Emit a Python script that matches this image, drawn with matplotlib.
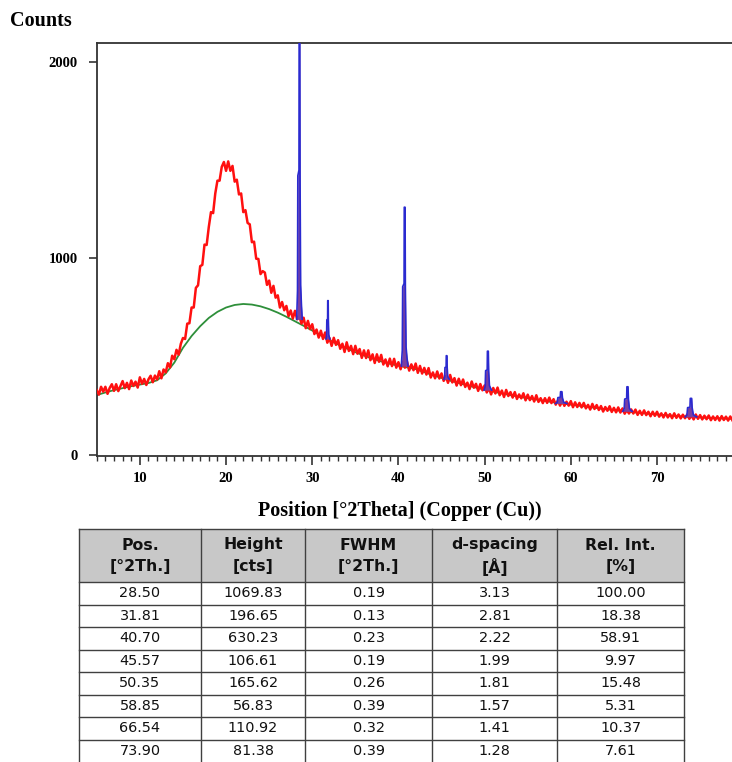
import numpy as np
import matplotlib
matplotlib.use("Agg")
import matplotlib.pyplot as plt
from matplotlib.ticker import MultipleLocator
from matplotlib.patches import Rectangle

# step scan, 0.25 deg from 5.00 to 78.75 deg 2theta
scan_start = 5.0
scan_step = 0.25
counts = [
    330, 307, 347, 322, 347, 311, 341, 360,
    326, 360, 325, 350, 376, 340, 367, 335,
    379, 351, 373, 343, 395, 362, 387, 356,
    385, 403, 370, 404, 384, 426, 390, 435,
    420, 467, 445, 505, 487, 535, 510, 565,
    595, 590, 668, 670, 750, 750, 850, 863,
    960, 967, 1070, 1068, 1160, 1235, 1230, 1330,
    1395, 1395, 1465, 1490, 1445, 1493, 1445, 1470,
    1390, 1400, 1325, 1330, 1235, 1245, 1180, 1173,
    1082, 1085, 998, 997, 920, 935, 928, 865,
    887, 825, 860, 800, 812, 750, 778, 736,
    758, 706, 735, 694, 733, 690, 707, 668,
    698, 645, 682, 640, 665, 615, 638, 597,
    632, 590, 623, 571, 595, 555, 596, 560,
    584, 540, 566, 524, 573, 529, 555, 513,
    555, 515, 539, 494, 532, 493, 532, 482,
    512, 468, 512, 474, 509, 460, 486, 451,
    490, 452, 489, 444, 472, 436, 474, 444,
    474, 429, 461, 431, 465, 418, 453, 414,
    443, 409, 442, 394, 420, 390, 425, 389,
    415, 377, 401, 367, 407, 369, 391, 353,
    388, 355, 384, 346, 368, 335, 374, 342,
    362, 326, 361, 329, 354, 318, 342, 308,
    341, 313, 343, 304, 328, 295, 331, 300,
    320, 292, 320, 285, 308, 288, 314, 278,
    307, 279, 300, 272, 304, 270, 289, 264,
    289, 265, 292, 264, 284, 256, 277, 251,
    278, 250, 271, 251, 274, 243, 268, 244,
    265, 242, 265, 237, 255, 231, 260, 234,
    254, 229, 249, 221, 244, 225, 248, 219,
    240, 217, 242, 216, 237, 210, 230, 211,
    232, 211, 231, 204, 225, 204, 227, 203,
    220, 197, 220, 199, 220, 195, 212, 191,
    214, 191, 208, 187, 212, 189, 206, 186,
    205, 187, 206, 184, 201, 181, 206, 184,
    203, 181, 200, 182, 201, 177, 196, 178,
    197, 175, 198, 178, 195, 175, 196, 176,
]

# fitted background
bg_theta = [5, 6, 7, 8, 9, 10, 11, 12, 13, 14, 15, 16, 17, 18, 19, 20, 21, 22,
            23, 24, 25, 26, 27, 28, 29, 30, 31, 32, 33, 34, 35, 36, 37, 38, 39,
            40, 42, 44, 46, 48, 50, 52, 54, 56, 58, 60, 62, 64, 66, 68, 70, 72,
            74, 76, 78.7]
bg_counts = [305, 318, 330, 340, 350, 358, 366, 380, 415, 470, 545, 605, 655,
             697, 728, 750, 763, 768, 765, 756, 742, 724, 703, 680, 657, 633,
             608, 584, 562, 542, 523, 506, 490, 476, 464, 454, 437, 406, 378,
             354, 332, 313, 296, 282, 268, 256, 245, 233, 224, 214, 206, 199,
             193, 189, 184]

# peak list
pos = [28.50, 31.81, 40.70, 45.57, 50.35, 58.85, 66.54, 73.90]
height = [1069.83, 196.65, 630.23, 106.61, 165.62, 56.83, 110.92, 81.38]
fwhm = [0.19, 0.13, 0.23, 0.19, 0.26, 0.39, 0.32, 0.39]
dspacing = [3.13, 2.81, 2.22, 1.99, 1.81, 1.57, 1.41, 1.28]
rel_int = [100.00, 18.38, 58.91, 9.97, 15.48, 5.31, 10.37, 7.61]

# fitted profile tops and bases on the counts scale
peak_top = [2150, 785, 1260, 505, 528, 322, 347, 288]
peak_base = [690, 590, 452, 385, 330, 262, 222, 194]

# profile outline in units of fwhm
shape_dx = [-1.6, -1.1, -0.9, -0.2, -0.1, 0.3, 0.45, 0.8, 1.3, 1.8]
shape_fr = [0.0, 0.1, 0.5, 0.52, 1.0, 1.0, 0.5, 0.12, 0.05, 0.0]

fig = plt.figure(figsize=(7.32, 7.62), dpi=100)
W, H = 732.0, 762.0
ax = fig.add_axes([96.5 / W, 1 - 456 / H, (W - 96.5) / W, (456 - 43) / H])

theta = scan_start + scan_step * np.arange(len(counts))
ax.plot(bg_theta, bg_counts, color="#2e8f3a", lw=1.3, zorder=2)
ax.plot(theta, counts, color="#ff1010", lw=1.8, zorder=3)

for p, f, top, base in zip(pos, fwhm, peak_top, peak_base):
    px = [p + d * f for d in shape_dx]
    py = [base + r * (top - base) for r in shape_fr]
    ax.fill_between(px, base, py, color="#7b3fa0", lw=0, zorder=4)
    ax.plot(px, py, color="#2a2ad0", lw=1.2, zorder=5)

ax.set_xlim(4.97, 78.7)
ax.set_ylim(-5, 2095)
ax.xaxis.set_major_locator(MultipleLocator(10))
ax.xaxis.set_minor_locator(MultipleLocator(1))
ax.set_yticks([0, 1000, 2000])
ax.spines["right"].set_visible(False)
for s in ["left", "top", "bottom"]:
    ax.spines[s].set_color("#333333")
    ax.spines[s].set_linewidth(1.3)
ax.tick_params(axis="x", which="major", length=6.5, width=1.2, pad=5, colors="#333333")
ax.tick_params(axis="x", which="minor", length=3.5, width=1.0, colors="#333333")
ax.tick_params(axis="y", which="major", length=5.5, width=1.2, pad=8, colors="#333333")
for lab in ax.get_xticklabels() + ax.get_yticklabels():
    lab.set_fontfamily("Liberation Serif")
    lab.set_fontweight("bold")
    lab.set_fontsize(10.5)
    lab.set_color("black")

fig.text(10 / W, 1 - 21 / H, "Counts", family="Liberation Serif", weight="bold",
         fontsize=14.5, va="center", ha="left")
fig.text(400 / W, 1 - 511 / H, "Position [°2Theta] (Copper (Cu))",
         family="Liberation Serif", weight="bold", fontsize=14.5,
         va="center", ha="center")

# peak table below the pattern, laid out in pixel coordinates
tax = fig.add_axes([0, 0, 1, 1])
tax.set_xlim(0, W)
tax.set_ylim(H, 0)
tax.axis("off")

col_edges = [79, 201, 305, 432, 557, 684]
head_top, head_bot, row_h = 529, 582, 22.5
headers = [("Pos.", "[°2Th.]"), ("Height", "[cts]"), ("FWHM", "[°2Th.]"),
           ("d-spacing", "[Å]"), ("Rel. Int.", "[%]")]
rows = list(zip(pos, height, fwhm, dspacing, rel_int))

tax.add_patch(Rectangle((col_edges[0], head_top), col_edges[-1] - col_edges[0],
                        head_bot - head_top, facecolor="#c8c8c8", edgecolor="none"))
line_kw = dict(color="#404040", lw=1.0)
tax.plot([col_edges[0], col_edges[-1]], [head_top, head_top], **line_kw)
tax.plot([col_edges[0], col_edges[-1]], [head_bot, head_bot], **line_kw)
for i in range(1, len(rows)):
    y = head_bot + i * row_h
    tax.plot([col_edges[0], col_edges[-1]], [y, y], **line_kw)
for x in col_edges:
    tax.plot([x, x], [head_top, H], **line_kw)

for j, (h1, h2) in enumerate(headers):
    cx = (col_edges[j] + col_edges[j + 1]) / 2
    tax.text(cx, 545, h1, ha="center", va="center", fontsize=11.3,
             weight="bold", family="DejaVu Sans", color="#111111")
    tax.text(cx, 567, h2, ha="center", va="center", fontsize=11.3,
             weight="bold", family="DejaVu Sans", color="#111111")

for i, r in enumerate(rows):
    cy = head_bot + (i + 0.5) * row_h
    for j, v in enumerate(r):
        cx = (col_edges[j] + col_edges[j + 1]) / 2
        tax.text(cx, cy, "%.2f" % v, ha="center", va="center", fontsize=10.4,
                 family="DejaVu Sans", color="#111111")

fig.savefig("out.png", dpi=100)
